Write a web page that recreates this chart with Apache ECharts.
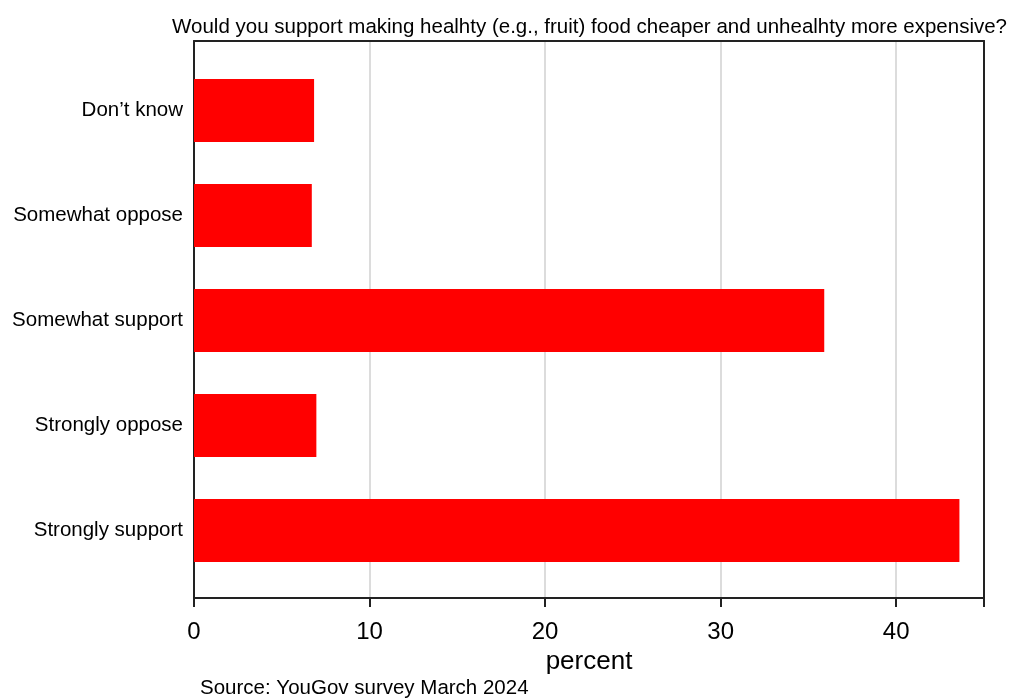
<!DOCTYPE html>
<html><head><meta charset="utf-8">
<script src="https://cdn.jsdelivr.net/npm/echarts@6/dist/echarts.min.js"></script>
<style>html,body{margin:0;padding:0;background:#fff}#c{width:1015px;height:700px}</style>
</head><body><div id="c"></div>
<script>
const categories = ["Strongly support", "Strongly oppose", "Somewhat support", "Somewhat oppose", "Don\u2019t know"];
const percentValues = [43.6, 6.97, 35.9, 6.71, 6.84];
const xTicks = [0, 10, 20, 30, 40];
const titleText = "Would you support making healhty (e.g., fruit) food cheaper and unhealhty more expensive?";
const sourceText = "Source: YouGov survey March 2024";
const axisName = "percent";

const FONT = "Liberation Sans, Arial, sans-serif";
const frameLine = {show: true, onZero: false, lineStyle: {color: '#222', width: 2}};
const chart = echarts.init(document.getElementById('c'), null, {renderer: 'canvas'});
chart.setOption({
  animation: false,
  backgroundColor: '#fff',
  title: {
    text: titleText, right: 3, top: 12,
    textStyle: {fontFamily: FONT, fontSize: 20.5, fontWeight: 'normal', color: '#000'}
  },
  graphic: [{
    type: 'text', left: 200, top: 678,
    style: {text: sourceText, font: '20.5px ' + FONT, fill: '#000'}
  }],
  grid: [
    {left: 194, right: 31, top: 41, bottom: 102},
    {left: 194, right: 31, top: 58, bottom: 117}
  ],
  xAxis: [
    {
      gridIndex: 0, type: 'value', min: 0, max: 45, interval: 10, position: 'bottom',
      axisLine: frameLine,
      axisTick: {show: true, length: 9, lineStyle: {color: '#222', width: 2}},
      axisLabel: {fontFamily: FONT, fontSize: 24, color: '#000', margin: 22,
        formatter: v => xTicks.includes(v) ? String(v) : ''},
      splitLine: {show: true, lineStyle: {color: '#dcdcdc', width: 2}},
      name: axisName, nameLocation: 'middle', nameGap: 45,
      nameTextStyle: {fontFamily: FONT, fontSize: 26, color: '#000'}
    },
    {
      gridIndex: 0, type: 'value', min: 0, max: 45, position: 'top',
      axisLine: frameLine, axisTick: {show: false}, axisLabel: {show: false}, splitLine: {show: false}
    },
    {
      gridIndex: 1, type: 'value', min: 0, max: 45, show: false
    }
  ],
  yAxis: [
    {gridIndex: 0, type: 'value', min: 0, max: 1, position: 'left',
      axisLine: frameLine, axisTick: {show: false}, axisLabel: {show: false}, splitLine: {show: false}},
    {gridIndex: 0, type: 'value', min: 0, max: 1, position: 'right',
      axisLine: frameLine, axisTick: {show: false}, axisLabel: {show: false}, splitLine: {show: false}},
    {
      gridIndex: 1, type: 'category', data: categories,
      axisLine: {show: false}, axisTick: {show: false},
      axisLabel: {fontFamily: FONT, fontSize: 20.5, color: '#000', margin: 11, padding: [6, 0, 0, 0]}
    }
  ],
  series: [{
    type: 'bar', xAxisIndex: 2, yAxisIndex: 2,
    data: percentValues, barCategoryGap: '40%',
    itemStyle: {color: '#ff0000'}, z: 3
  }]
});
</script></body></html>
